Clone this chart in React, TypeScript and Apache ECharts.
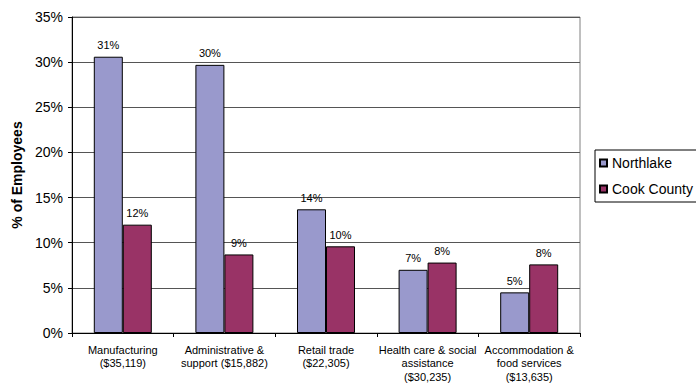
import React, { useEffect, useRef } from "react";
import * as echarts from "echarts";

const categories = [
  "Manufacturing\n($35,119)",
  "Administrative &\nsupport ($15,882)",
  "Retail trade\n($22,305)",
  "Health care & social\nassistance\n($30,235)",
  "Accommodation &\nfood services\n($13,635)",
];
const northlake = [30.6, 29.7, 13.7, 7.0, 4.5];
const cookCounty = [12.0, 8.7, 9.6, 7.8, 7.6];
const northlakeLabels = ["31%", "30%", "14%", "7%", "5%"];
const cookLabels = ["12%", "9%", "10%", "8%", "8%"];

export default function App() {
  const ref = useRef<HTMLDivElement>(null);
  useEffect(() => {
    if (!ref.current) return;
    const chart = echarts.init(ref.current, null, { renderer: "svg" });
    const font = "Liberation Sans, Arial, sans-serif";
    chart.setOption({
      animation: false,
      textStyle: { fontFamily: font },
      grid: {
        left: 72,
        right: 116,
        top: 17,
        bottom: 51,
        show: true,
        borderColor: "#808080",
        borderWidth: 1,
      },
      legend: {
        orient: "vertical",
        left: 595,
        top: 150,
        padding: [6, 4, 6, 4],
        itemGap: 12,
        itemWidth: 7,
        itemHeight: 7,
        borderColor: "#000",
        borderWidth: 1,
        icon: "rect",
        textStyle: { fontSize: 14, color: "#000", fontFamily: font },
        data: ["Northlake", "Cook County"],
      },
      xAxis: {
        type: "category",
        data: categories,
        axisLine: { lineStyle: { color: "#000", width: 1 } },
        axisTick: { show: true, length: 4, lineStyle: { color: "#000" } },
        axisLabel: {
          color: "#000",
          fontSize: 11,
          lineHeight: 13.5,
          margin: 10,
          interval: 0,
          fontFamily: font,
        },
      },
      yAxis: {
        type: "value",
        min: 0,
        max: 35,
        interval: 5,
        name: "% of Employees",
        nameLocation: "middle",
        nameGap: 48,
        nameRotate: 90,
        nameTextStyle: { fontSize: 14, fontWeight: "bold", color: "#000", fontFamily: font },
        axisLine: { show: true, lineStyle: { color: "#000", width: 1 } },
        axisTick: { show: true, length: 4, lineStyle: { color: "#000" } },
        axisLabel: {
          color: "#000",
          fontSize: 14,
          margin: 9,
          formatter: (v: number) => v + "%",
          fontFamily: font,
        },
        splitLine: { show: true, lineStyle: { color: "#555", width: 1 } },
      },
      series: [
        {
          name: "Northlake",
          type: "bar",
          data: northlake,
          barWidth: 29,
          barGap: "0%",
          itemStyle: { color: "#9999CC", borderColor: "#000", borderWidth: 1 },
          label: {
            show: true,
            position: "top",
            distance: 6,
            fontSize: 11,
            color: "#000",
            fontFamily: font,
            formatter: (p: any) => northlakeLabels[p.dataIndex],
          },
        },
        {
          name: "Cook County",
          type: "bar",
          data: cookCounty,
          barWidth: 29,
          barGap: "0%",
          itemStyle: { color: "#993366", borderColor: "#000", borderWidth: 1 },
          label: {
            show: true,
            position: "top",
            distance: 6,
            fontSize: 11,
            color: "#000",
            fontFamily: font,
            formatter: (p: any) => cookLabels[p.dataIndex],
          },
        },
      ],
    });
    return () => chart.dispose();
  }, []);
  return <div ref={ref} style={{ width: 696, height: 384, position: "absolute", left: 0, top: 0 }} />;
}
